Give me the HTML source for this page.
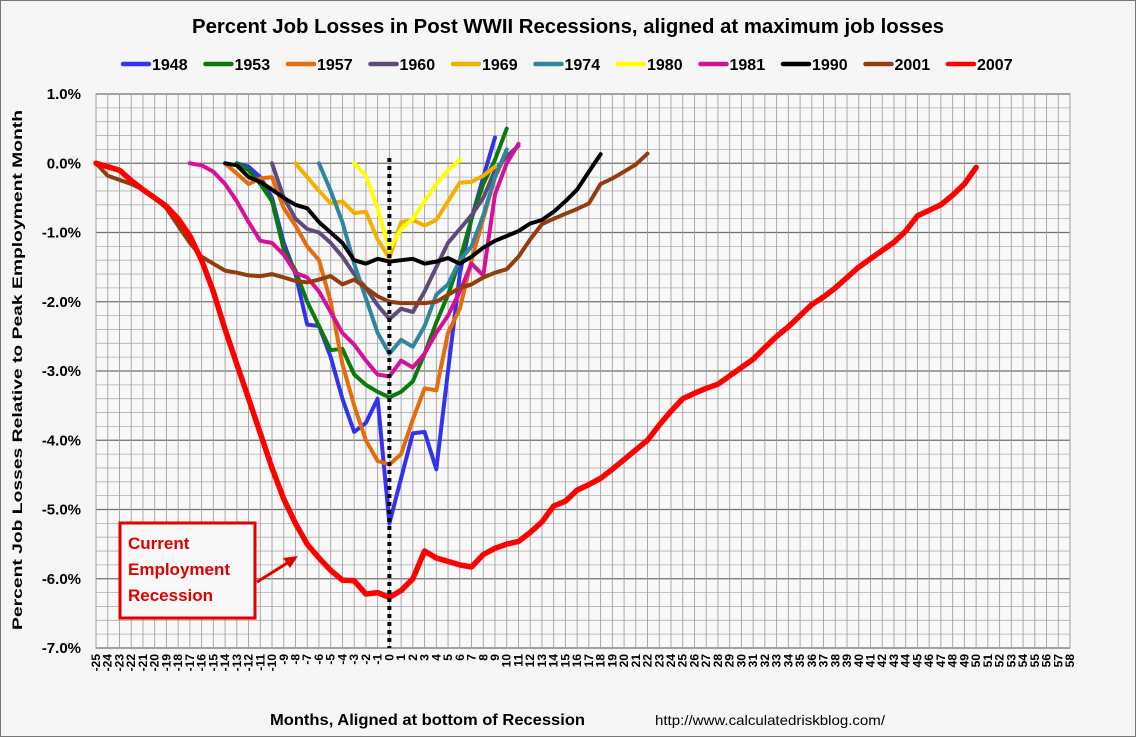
<!DOCTYPE html>
<html><head><meta charset="utf-8"><style>
html,body{margin:0;padding:0;background:#f6f6f6}
svg{display:block;font-family:"Liberation Sans",sans-serif}
</style></head><body>
<svg id="chart" width="1136" height="737" viewBox="0 0 1136 737" xmlns="http://www.w3.org/2000/svg">
<rect x="0.5" y="0.5" width="1135" height="736" fill="#f6f6f6" stroke="#777"/>
<text x="568" y="33" text-anchor="middle" font-size="20" font-weight="bold" textLength="752" lengthAdjust="spacingAndGlyphs" fill="#000">Percent Job Losses in Post WWII Recessions, aligned at maximum job losses</text>
<g id="legend"></g>
<g id="grid"></g>
<g id="axes"></g>
<g id="series"></g>
<text x="22" y="370" transform="rotate(-90 22 370)" text-anchor="middle" font-size="14" font-weight="bold" textLength="520" lengthAdjust="spacingAndGlyphs">Percent Job Losses Relative to Peak Employment Month</text>
<text x="270" y="725" font-size="16" font-weight="bold" textLength="315" lengthAdjust="spacingAndGlyphs">Months, Aligned at bottom of Recession</text>
<text x="655" y="725" font-size="14" textLength="230" lengthAdjust="spacingAndGlyphs">http://www.calculatedriskblog.com/</text>
<g>
<rect x="120" y="523" width="135" height="95" fill="#f8f8f8" stroke="#e00000" stroke-width="3"/>
<text font-size="17" font-weight="bold" fill="#e00000"><tspan x="128" y="549">Current</tspan><tspan x="128" y="575">Employment</tspan><tspan x="128" y="601">Recession</tspan></text>
<line x1="257" y1="582" x2="292" y2="560" stroke="#e00000" stroke-width="3"/>
<polygon points="298,556 283,558 290,568" fill="#e00000"/>
</g>
</svg>
<script>
const months = [];
for (let m = -25; m <= 58; m++) months.push(m);
const yTicks = [1, 0, -1, -2, -3, -4, -5, -6, -7];
const yTickLabels = ["1.0%","0.0%","-1.0%","-2.0%","-3.0%","-4.0%","-5.0%","-6.0%","-7.0%"];
const seriesNames = ["1948","1953","1957","1960","1969","1974","1980","1981","1990","2001","2007"];
const seriesStart = [-13,-13,-14,-10,-8,-6,-3,-17,-14,-25,-25];
const s1948 = [0,-0.05,-0.2,-0.5,-1.15,-1.6,-2.33,-2.35,-2.8,-3.4,-3.88,-3.75,-3.4,-5.2,-4.55,-3.9,-3.88,-4.42,-3.0,-1.6,-0.8,-0.2,0.37];
const s1953 = [0,-0.1,-0.3,-0.55,-1.25,-1.55,-2.0,-2.35,-2.7,-2.68,-3.05,-3.2,-3.3,-3.38,-3.3,-3.15,-2.75,-2.3,-1.9,-1.4,-0.8,-0.3,0.05,0.5];
const s1957 = [0,-0.15,-0.3,-0.22,-0.2,-0.65,-0.9,-1.2,-1.4,-2.0,-2.9,-3.5,-4.0,-4.3,-4.35,-4.2,-3.7,-3.25,-3.28,-2.45,-2.1,-1.4,-0.8,-0.2,0.15];
const s1960 = [0,-0.5,-0.8,-0.95,-1.0,-1.15,-1.35,-1.6,-1.8,-2.05,-2.25,-2.1,-2.15,-1.85,-1.5,-1.15,-0.95,-0.75,-0.5,-0.1,0.1,0.25];
const s1969 = [0,-0.2,-0.4,-0.58,-0.55,-0.72,-0.7,-1.1,-1.37,-0.85,-0.82,-0.9,-0.82,-0.55,-0.28,-0.27,-0.18,-0.05];
const s1974 = [0,-0.4,-0.85,-1.45,-1.95,-2.45,-2.75,-2.55,-2.65,-2.35,-1.9,-1.75,-1.4,-1.2,-0.75,-0.2,0.2];
const s1980 = [0,-0.18,-0.65,-1.25,-0.95,-0.8,-0.55,-0.3,-0.1,0.05];
const s1981 = [0,-0.03,-0.12,-0.3,-0.55,-0.85,-1.12,-1.15,-1.32,-1.58,-1.65,-1.85,-2.15,-2.45,-2.62,-2.85,-3.05,-3.08,-2.85,-2.95,-2.75,-2.45,-2.2,-1.85,-1.45,-1.62,-0.45,0.0,0.28];
const s1990 = [0,-0.03,-0.2,-0.27,-0.38,-0.5,-0.6,-0.65,-0.85,-1.0,-1.15,-1.4,-1.45,-1.38,-1.42,-1.4,-1.38,-1.45,-1.42,-1.37,-1.45,-1.35,-1.22,-1.12,-1.05,-0.98,-0.87,-0.82,-0.7,-0.55,-0.38,-0.12,0.13];
const s2001 = [0,-0.18,-0.24,-0.3,-0.38,-0.5,-0.65,-0.9,-1.15,-1.35,-1.45,-1.55,-1.58,-1.62,-1.63,-1.6,-1.65,-1.7,-1.72,-1.68,-1.63,-1.75,-1.68,-1.8,-1.92,-2.0,-2.02,-2.02,-2.02,-2.0,-1.9,-1.8,-1.75,-1.65,-1.58,-1.53,-1.35,-1.1,-0.88,-0.8,-0.73,-0.66,-0.58,-0.3,-0.22,-0.12,-0.02,0.14];
const s2007 = [0,-0.05,-0.1,-0.25,-0.38,-0.5,-0.62,-0.8,-1.05,-1.4,-1.85,-2.4,-2.9,-3.4,-3.9,-4.4,-4.85,-5.2,-5.5,-5.7,-5.88,-6.02,-6.03,-6.22,-6.2,-6.27,-6.17,-6.0,-5.6,-5.7,-5.75,-5.8,-5.83,-5.65,-5.56,-5.5,-5.46,-5.33,-5.18,-4.95,-4.88,-4.72,-4.64,-4.55,-4.42,-4.28,-4.14,-4.0,-3.78,-3.58,-3.4,-3.32,-3.25,-3.19,-3.07,-2.95,-2.83,-2.66,-2.5,-2.36,-2.2,-2.04,-1.93,-1.8,-1.65,-1.5,-1.38,-1.26,-1.14,-0.98,-0.76,-0.68,-0.6,-0.46,-0.3,-0.06];
const seriesValues = [s1948,s1953,s1957,s1960,s1969,s1974,s1980,s1981,s1990,s2001,s2007];
const seriesColors = ["#3333ee","#0a7a0a","#e46c0a","#604a7b","#f4b000","#31859c","#ffff00","#d6109a","#000000","#943c0c","#ff0000"];

const NS = "http://www.w3.org/2000/svg";
const L = 96, R = 1070, T = 94, B = 648;
const xMin = -25, xMax = 58, yMax = 1, yMin = -7;
const xs = m => L + (m - xMin) * (R - L) / (xMax - xMin);
const ys = v => T + (yMax - v) * (B - T) / (yMax - yMin);
function mk(tag, attrs, parent) {
  const e = document.createElementNS(NS, tag);
  for (const k in attrs) e.setAttribute(k, attrs[k]);
  parent.appendChild(e);
  return e;
}
const grid = document.getElementById("grid");
const axes = document.getElementById("axes");
const series = document.getElementById("series");
const legend = document.getElementById("legend");
const plotBg = mk("rect", {x: L, y: T, width: R - L, height: B - T, fill: "#f8f8f8", stroke: "#888"}, grid);


for (let v = yMin; v <= yMax + 1e-9; v += 0.2) {
  const major = Math.abs(v - Math.round(v)) < 1e-6;
  const gl = mk("line", {x1: L, x2: R, y1: ys(v), y2: ys(v), stroke: major ? "#707070" : "#b0b0b0", "stroke-width": major ? 1.2 : 0.8}, grid);
  
  
}
months.forEach(m => {
  const gl = mk("line", {x1: xs(m), x2: xs(m), y1: T, y2: B, stroke: "#a0a0a0", "stroke-width": 0.9}, grid);
  
  
  const t = mk("text", {x: 0, y: 0, "font-size": 12, "font-weight": "bold", "text-anchor": "end", transform: `translate(${xs(m) + 4},${B + 6}) rotate(-90)`}, axes);
  t.textContent = String(m);
  
  
});
yTicks.forEach((v, i) => {
  const t = mk("text", {x: 81, y: ys(v) + 5, "font-size": 15, "font-weight": "bold", "text-anchor": "end"}, axes);
  t.textContent = yTickLabels[i];
  
  
});
seriesValues.forEach((vals, i) => {
  const pts = vals.map((v, j) => xs(seriesStart[i] + j).toFixed(1) + "," + ys(v).toFixed(1)).join(" ");
  const w = seriesNames[i] === "2007" ? 5.5 : 4;
  const p = mk("polyline", {points: pts, fill: "none", stroke: seriesColors[i], "stroke-width": w, "stroke-linejoin": "round", "stroke-linecap": "round"}, series);
  
  
  const lx = 123 + i * 82.5;
  const ll = mk("line", {x1: lx, x2: lx + 26, y1: 64, y2: 64, stroke: seriesColors[i], "stroke-width": 4.5, "stroke-linecap": "round"}, legend);
  
  
  const lt = mk("text", {x: lx + 29, y: 70, "font-size": 16, "font-weight": "bold"}, legend);
  lt.textContent = seriesNames[i];
  
  
});
const zl = mk("line", {x1: xs(0), x2: xs(0), y1: 158, y2: B, stroke: "#000", "stroke-width": 4, "stroke-dasharray": "4 4"}, series);


</script>
</body></html>
